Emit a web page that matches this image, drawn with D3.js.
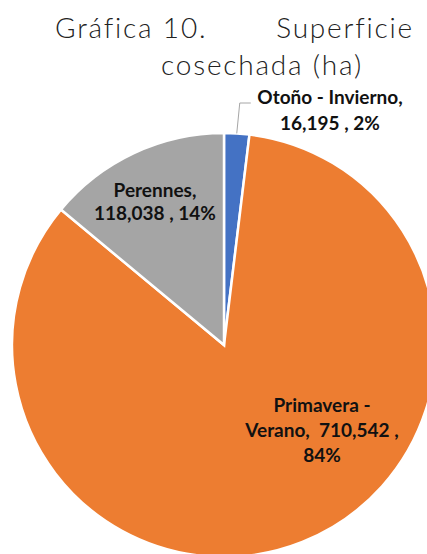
<!DOCTYPE html>
<html>
<head>
<meta charset="utf-8">
<script src="https://cdn.jsdelivr.net/npm/d3@7"></script>
<style>
  html, body { margin: 0; padding: 0; background: #fff; }
  svg { display: block; }
</style>
</head>
<body>
<div id="chart"></div>
<script>
const categories = ["Otoño - Invierno", "Primavera - Verano", "Perennes"];
const values = [16195, 710542, 118038];
const percents = ["2%", "84%", "14%"];
const colors = ["#4472C4", "#ED7D31", "#A5A5A5"];

const width = 427, height = 554;
const cx = 224, cy = 345, radius = 212;

const svg = d3.select("#chart")
    .append("svg")
    .attr("width", width)
    .attr("height", height);

// title
const title = svg.append("g")
    .attr("font-family", "Lato, 'Open Sans', sans-serif")
    .attr("font-weight", 300)
    .attr("font-size", 28)
    .attr("letter-spacing", 1.8)
    .attr("fill", "#222");
title.append("text").attr("x", 55).attr("y", 38).text("Gráfica 10.");
title.append("text").attr("x", 414).attr("y", 38).attr("text-anchor", "end").text("Superficie");
title.append("text").attr("x", 262).attr("y", 75).attr("text-anchor", "middle").text("cosechada (ha)");

const data = categories.map((c, i) => ({name: c, value: values[i], pct: percents[i], color: colors[i]}));

const pie = d3.pie()
    .sort(null)
    .value(d => d.value);

const arc = d3.arc()
    .innerRadius(0)
    .outerRadius(radius);

const g = svg.append("g")
    .attr("transform", `translate(${cx},${cy})`);

g.selectAll("path")
    .data(pie(data))
    .join("path")
    .attr("d", arc)
    .attr("fill", d => d.data.color)
    .attr("stroke", "#fff")
    .attr("stroke-width", 2.5);

// leader line for small slice
const fmt = d3.format(",d");
const arcs = pie(data);
const a0 = (arcs[0].startAngle + arcs[0].endAngle) / 2;
const edge = [Math.sin(a0) * radius, -Math.cos(a0) * radius];
g.append("polyline")
    .attr("points", [edge, [edge[0] + 3, -242], [edge[0] + 14, -242]].map(p => p.join(",")).join(" "))
    .attr("fill", "none")
    .attr("stroke", "#A6A6A6")
    .attr("stroke-width", 1);

// labels
const labels = [
    {lines: [data[0].name + ",", fmt(data[0].value) + " , " + data[0].pct], x: 330, y: 104, dy: 26},
    {lines: ["Primavera -", "Verano,  " + fmt(data[1].value) + " ,", data[1].pct], x: 322, y: 412, dy: 25},
    {lines: [data[2].name + ",", fmt(data[2].value) + " , " + data[2].pct], x: 155, y: 197, dy: 23}
];

svg.append("g")
    .attr("font-family", "Lato, 'Open Sans', sans-serif")
    .attr("font-weight", "bold")
    .attr("font-size", 19)
    .attr("text-anchor", "middle")
    .attr("fill", "#111")
    .selectAll("text")
    .data(labels)
    .join("text")
    .selectAll("tspan")
    .data(d => d.lines.map((l, i) => ({t: l, x: d.x, y: d.y + i * d.dy})))
    .join("tspan")
    .attr("x", d => d.x)
    .attr("y", d => d.y)
    .style("white-space", "pre")
    .text(d => d.t);
</script>
</body>
</html>
